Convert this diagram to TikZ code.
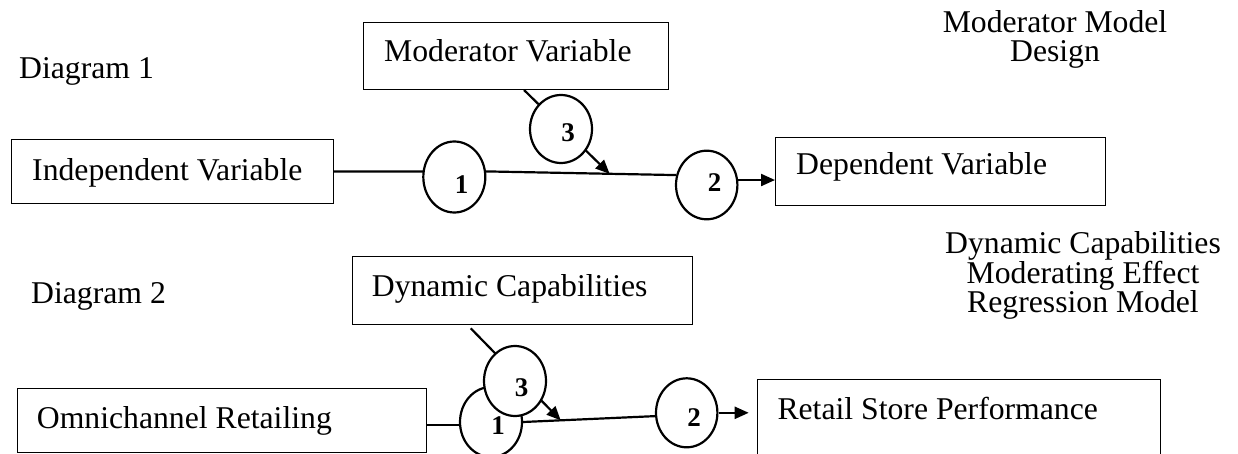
\documentclass[tikz,border=0pt]{standalone}
\usepackage{fontspec}
\setmainfont{Liberation Serif}
\usetikzlibrary{arrows.meta,shapes.geometric,calc}
\pgfdeclarelayer{bg}
\pgfsetlayers{bg,main}
\begin{document}
\begin{tikzpicture}[x=1pt,y=-1pt,
  box/.style={draw, line width=1pt, inner sep=0pt, anchor=north west},
  txt/.style={inner sep=0pt, anchor=base west, font=\fontsize{31.7}{38}\selectfont},
  ctxt/.style={inner sep=0pt, anchor=base, font=\fontsize{31.7}{38}\selectfont},
  oval/.style={draw, ellipse, fill=white, line width=2.2pt, inner sep=0pt},
  num/.style={inner sep=0pt, font=\fontsize{27}{32}\selectfont\bfseries},
  conn/.style={line width=2.2pt},
  arr/.style={conn, -{Triangle[length=14pt,width=12pt]}}]
\useasboundingbox (0,0) rectangle (1238,454);
\clip (0,0) rectangle (1238,454);

% ---------- Diagram 1 ----------
\node[txt] (d1) at (19,79) {Diagram 1};
\node[ctxt] (t1a) at (1055,33) {Moderator Model};
\node[ctxt] (t1b) at (1055,62) {Design};

\node[box, minimum width=322pt, minimum height=64pt] (iv) at (11,139) {};
\node[txt] (ivt) at (32,180.7) {Independent Variable};
\node[box, minimum width=305pt, minimum height=67pt] (mv) at (363,22) {};
\node[txt] (mvt) at (384,62) {Moderator Variable};
\node[box, minimum width=330pt, minimum height=68pt] (dv) at (775,137) {};
\node[txt] (dvt) at (796,175) {Dependent Variable};

\node[oval, minimum width=62pt, minimum height=71pt] (c1) at (454.3,177) {};
\node[oval, minimum width=62pt, minimum height=68pt] (c3) at (561,129) {};
\node[oval, minimum width=61.4pt, minimum height=68.6pt] (c2) at (706.7,185) {};
\node[num] (n1) at (461.5,184.5) {1};
\node[num] (n3) at (568,133) {3};
\node[num] (n2) at (714.5,183) {2};

\coordinate (m1) at ($(c1.10)!0.65!(c2.162)$);
\coordinate (ms) at ($(mv.south west)+(161,0)$);

% ---------- Diagram 2 ----------
\node[txt] (d2) at (31,303) {Diagram 2};
\node[ctxt] (t2a) at (1083,254) {Dynamic Capabilities};
\node[ctxt] (t2b) at (1083,283) {Moderating Effect};
\node[ctxt] (t2c) at (1083,312) {Regression Model};

\node[box, minimum width=340.6pt, minimum height=68.3pt] (dc) at (351.7,256) {};
\node[txt] (dct) at (371.7,296.7) {Dynamic Capabilities};
\node[box, minimum width=409.3pt, minimum height=64pt] (om) at (16.7,387.7) {};
\node[txt] (omt) at (36.7,428.3) {Omnichannel Retailing};
\node[box, minimum width=403.3pt, minimum height=100pt] (rs) at (756.7,379.3) {};
\node[txt] (rst) at (777.3,419) {Retail Store Performance};

\node[oval, minimum width=62pt, minimum height=70pt] (c1b) at (491,422) {};
\node[oval, minimum width=62pt, minimum height=70pt] (c3b) at (515,381) {};
\node[oval, minimum width=61.4pt, minimum height=69pt] (c2b) at (686.7,412.8) {};
\node[num] (n1b) at (498,426) {1};
\node[num] (n3b) at (521.5,387.5) {3};
\node[num] (n2b) at (694,418) {2};

\coordinate (m2) at ($(c1b.0)!0.285!(c2b.186)$);
\coordinate (ds) at ($(dc.south west)+(119,3)$);

\begin{pgfonlayer}{bg}
  \draw[conn] (iv.east |- c1.10) -- (c1.10) -- (c2.162);
  \draw[arr] (c2.9) -- (c2.9 -| dv.west);
  \draw[arr] (ms) -- (m1);
  \draw[conn] (om.east |- c1b.186) -- (c1b.186);
  \draw[conn] (c1b.0) -- (c2b.186);
  \draw[arr] (c2b.0) -- ($(c2b.0 -| rs.west)+(-8,0)$);
  \draw[arr] (ds) -- (m2);
\end{pgfonlayer}
\end{tikzpicture}
\end{document}
